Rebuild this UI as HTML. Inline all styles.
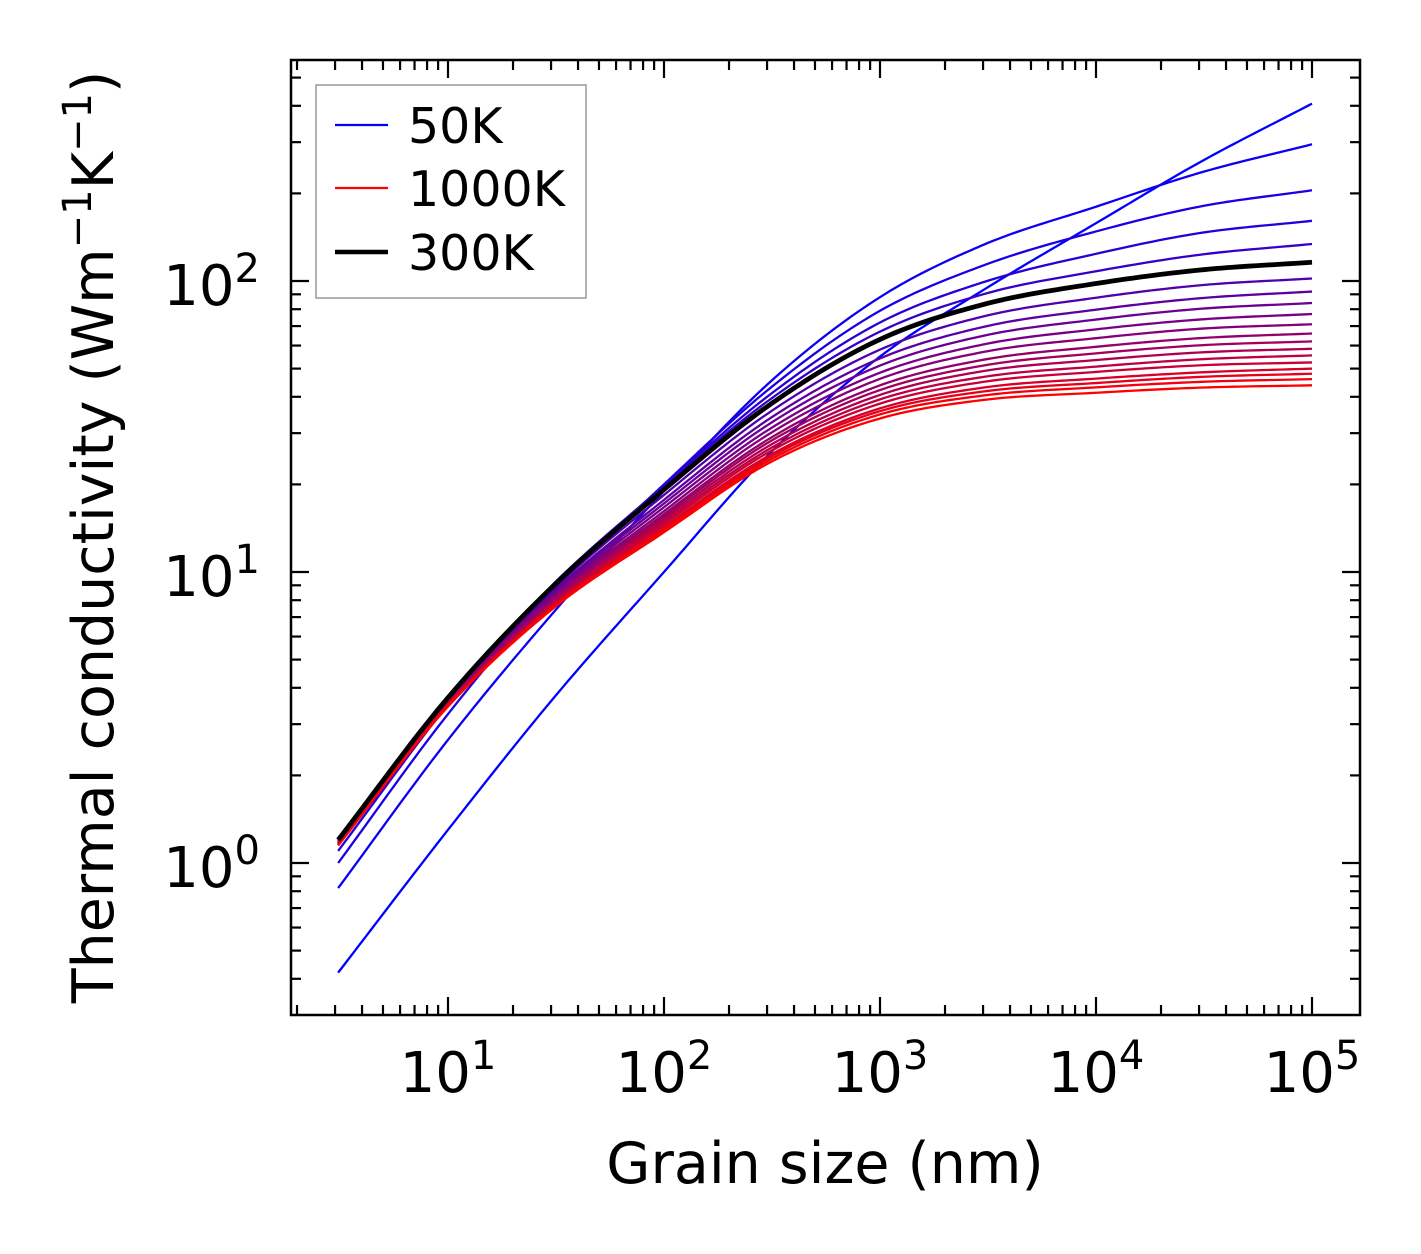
<!DOCTYPE html>
<html><head><meta charset="utf-8"><style>
body{margin:0;background:#fff;}
svg{display:block;font-family:"DejaVu Sans","Liberation Sans",sans-serif;}
</style></head><body>
<svg id="chart" width="1421" height="1254" viewBox="0 0 1421 1254" xmlns="http://www.w3.org/2000/svg">
<g id="curves"></g>
<g id="ticks"></g>
<rect x="291" y="60" width="1069" height="955" fill="none" stroke="#000" stroke-width="2.5"/>
<text x="825" y="1183" font-size="57" text-anchor="middle">Grain size (nm)</text>
<text transform="translate(113,537) rotate(-90)" font-size="57" text-anchor="middle">Thermal conductivity (Wm<tspan dy="-22" font-size="40">−1</tspan><tspan dy="22">K</tspan><tspan dy="-22" font-size="40">−1</tspan><tspan dy="22">)</tspan></text>
<g>
<rect x="316" y="85" width="270" height="213" fill="#fff" stroke="#999" stroke-width="1.5"/>
<line x1="335" y1="125" x2="388" y2="125" stroke="#0000ff" stroke-width="2.2"/>
<text x="408" y="143" font-size="49">50K</text>
<line x1="335" y1="188" x2="388" y2="188" stroke="#ff0000" stroke-width="2.2"/>
<text x="408" y="206" font-size="49">1000K</text>
<line x1="335" y1="252" x2="388" y2="252" stroke="#000" stroke-width="4.5"/>
<text x="408" y="270" font-size="49">300K</text>
</g>
</svg>
<script>
const grainSizes = [3.1, 10, 30, 100, 300, 1000, 3000, 1e4, 3e4, 1e5];
const temperatures = [50,100,150,200,250,300,350,400,450,500,550,600,650,700,750,800,850,900,950,1000];
const k50 = [0.42,1.3,3.6,10,25,55,93,158,255,407];
const k100 = [0.82,2.65,7.1,19,44,88,133,180,235,295];
const k150 = [1.0,3.25,8.5,20,42,79,113,148,180,205];
const k200 = [1.1,3.5,8.88,19.8,40,72,99,124,146,161];
const k250 = [1.15,3.62,8.93,19.6,38.5,67,90,108,123,134];
const k300 = [1.2,3.7,8.8,19.2,37,63,83,98,109,116];
const k350 = [1.2,3.67,8.59,18.4,34.9,58.1,75.5,87.6,96.6,102];
const k400 = [1.19,3.64,8.41,17.7,33.2,54.2,69.5,79.7,87.2,92];
const k450 = [1.18,3.61,8.29,17.2,31.9,51.2,64.8,73.7,80.2,84];
const k500 = [1.18,3.59,8.16,16.7,30.6,48.4,60.5,68.2,73.7,77];
const k550 = [1.17,3.57,8.04,16.2,29.5,46.1,57,63.6,68.5,71];
const k600 = [1.17,3.55,7.93,15.8,28.4,43.8,53.6,59.4,63.6,66];
const k650 = [1.17,3.54,7.84,15.5,27.7,42.2,51.2,56.4,60.1,62];
const k700 = [1.16,3.52,7.75,15.2,26.9,40.6,49,53.5,56.8,58.5];
const k750 = [1.16,3.51,7.68,14.9,26.2,39.2,46.8,50.8,53.8,55.5];
const k800 = [1.16,3.5,7.61,14.6,25.6,37.9,45,48.7,51.3,52.5];
const k850 = [1.15,3.48,7.53,14.3,24.9,36.5,43,46.2,48.5,50];
const k900 = [1.15,3.47,7.48,14.1,24.5,35.7,41.7,44.6,46.8,48];
const k950 = [1.15,3.46,7.43,13.9,24,34.8,40.4,43.1,45,46];
const k1000 = [1.15,3.45,7.4,13.7,23.5,33.7,39,41.3,43,43.8];
const xTickExps = [1,2,3,4,5];
const yTickExps = [0,1,2];

const series = [k50,k100,k150,k200,k250,k300,k350,k400,k450,k500,k550,k600,k650,k700,k750,k800,k850,k900,k950,k1000];
const X0=291,X1=1360,Y0=1015,Y1=60;
const xMin=1-157/216, xMax=1+(1360-448)/216;
const yMin=-152/291, yMax=2+221/291;
const sx=v=>X0+(Math.log10(v)-xMin)/(xMax-xMin)*(X1-X0);
const sy=v=>Y0-(Math.log10(v)-yMin)/(yMax-yMin)*(Y0-Y1);
const NS="http://www.w3.org/2000/svg";
function mk(t,a,p){const e=document.createElementNS(NS,t);for(const k in a)e.setAttribute(k,a[k]);p.appendChild(e);return e;}

function pathFor(vals){
  const lx=grainSizes.map(Math.log10), ly=vals.map(Math.log10);
  const n=lx.length, d0=[], m=[];
  for(let i=0;i<n-1;i++) d0.push((ly[i+1]-ly[i])/(lx[i+1]-lx[i]));
  for(let i=0;i<n;i++){
    if(i===0) m.push(d0[0]);
    else if(i===n-1) m.push(d0[n-2]);
    else {
      const h0=lx[i]-lx[i-1], h1=lx[i+1]-lx[i];
      m.push((d0[i-1]*h1+d0[i]*h0)/(h0+h1));
    }
  }
  let d="";
  for(let i=0;i<n-1;i++){
    const h=lx[i+1]-lx[i];
    for(let s=0;s<=20;s++){
      if(i>0&&s===0)continue;
      const t=s/20,t2=t*t,t3=t2*t;
      const y=(2*t3-3*t2+1)*ly[i]+(t3-2*t2+t)*h*m[i]+(-2*t3+3*t2)*ly[i+1]+(t3-t2)*h*m[i+1];
      const x=lx[i]+t*h;
      d+=(d?"L":"M")+sx(Math.pow(10,x)).toFixed(2)+","+sy(Math.pow(10,y)).toFixed(2);
    }
  }
  return d;
}
const cg=document.getElementById("curves");
series.forEach((vals,i)=>{
  const f=i/(series.length-1);
  const col=`rgb(${Math.round(255*f)},0,${Math.round(255*(1-f))})`;
  const p=mk("path",{d:pathFor(vals),fill:"none",stroke:col,"stroke-width":2.3},cg);
  
  
});
const bp=mk("path",{d:pathFor(k300),fill:"none",stroke:"#000","stroke-width":4.8},cg);



const tg=document.getElementById("ticks");
const tk={stroke:"#000","stroke-width":2.2};
for(let e=0;e<=6;e++){
  for(let j=1;j<10;j++){
    const v=j*Math.pow(10,e);
    const x=sx(v); if(x<X0+1||x>X1-1) continue;
    const L=j===1?18:10;
    mk("line",Object.assign({x1:x,x2:x,y1:Y0,y2:Y0-L},tk),tg);
    mk("line",Object.assign({x1:x,x2:x,y1:Y1,y2:Y1+L},tk),tg);
  }
}
for(let e=-1;e<=3;e++){
  for(let j=1;j<10;j++){
    const v=j*Math.pow(10,e);
    const y=sy(v); if(y>Y0-1||y<Y1+1) continue;
    const L=j===1?18:10;
    mk("line",Object.assign({x1:X0,x2:X0+L,y1:y,y2:y},tk),tg);
    mk("line",Object.assign({x1:X1,x2:X1-L,y1:y,y2:y},tk),tg);
  }
}
xTickExps.forEach(e=>{
  const t=mk("text",{x:sx(Math.pow(10,e))+0,y:1092,"font-size":56,"text-anchor":"middle"},tg);
  
  
  t.innerHTML='10<tspan dy="-23" font-size="40">'+e+'</tspan>';
});
yTickExps.forEach(e=>{
  const t=mk("text",{x:260,y:sy(Math.pow(10,e))+24,"font-size":56,"text-anchor":"end"},tg);
  
  
  t.innerHTML='10<tspan dy="-23" font-size="40">'+e+'</tspan>';
});
</script>
</body></html>
